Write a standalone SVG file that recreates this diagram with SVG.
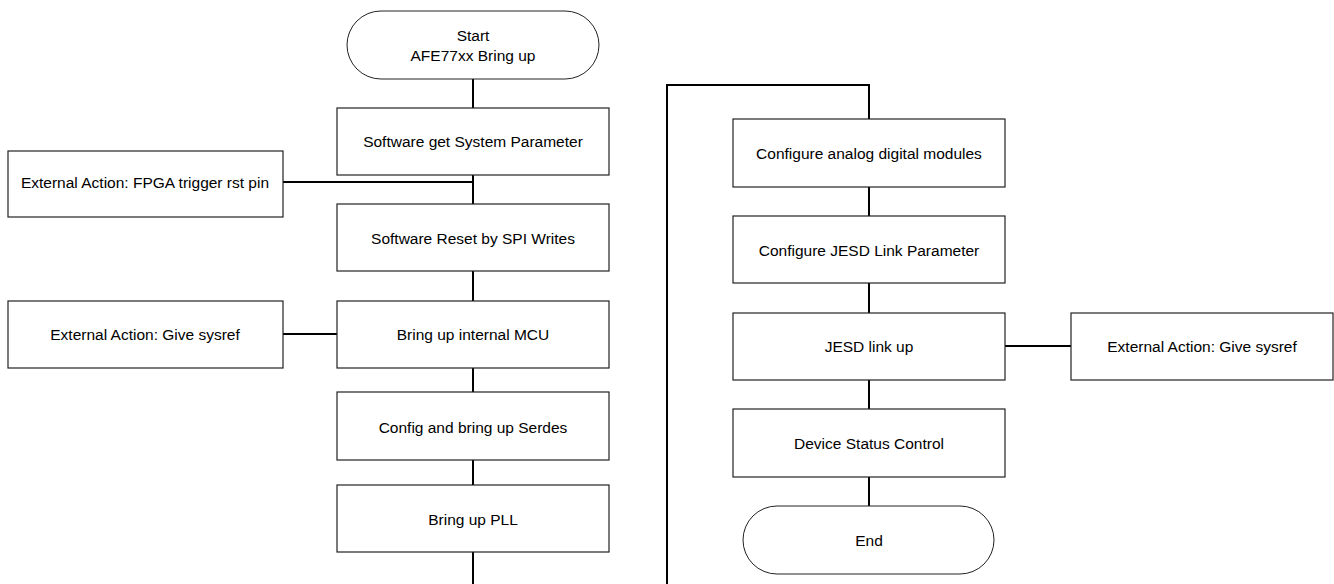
<svg xmlns="http://www.w3.org/2000/svg" width="1334" height="584" viewBox="0 0 1334 584">
<style>
.box{fill:#fff;stroke:#222;stroke-width:1.2}
.term{fill:#fff;stroke:#222;stroke-width:1}
.t{font-family:"Liberation Sans",Arial,sans-serif;font-size:15.5px;fill:#000;text-anchor:middle;dominant-baseline:central}
.c{fill:none;stroke:#000;stroke-width:2}
</style>
<rect width="1334" height="584" fill="#fff"/>
<g id="connectors">
<line class="c" x1="473" y1="79" x2="473" y2="108"/>
<line class="c" x1="473" y1="175" x2="473" y2="204"/>
<line class="c" x1="283" y1="182" x2="473" y2="182"/>
<line class="c" x1="473" y1="271" x2="473" y2="301"/>
<line class="c" x1="283" y1="334" x2="337" y2="334"/>
<line class="c" x1="473" y1="368" x2="473" y2="392"/>
<line class="c" x1="473" y1="460" x2="473" y2="485"/>
<line class="c" x1="473" y1="552" x2="473" y2="584"/>
<polyline class="c" points="667,584 667,85 869,85 869,119"/>
<line class="c" x1="869" y1="187" x2="869" y2="216"/>
<line class="c" x1="869" y1="283" x2="869" y2="313"/>
<line class="c" x1="1005" y1="346" x2="1071" y2="346"/>
<line class="c" x1="869" y1="380" x2="869" y2="409"/>
<line class="c" x1="869" y1="477" x2="869" y2="506"/>
</g>
<g id="start"><rect class="term" x="347" y="11" width="252" height="68" rx="34"/><text class="t" x="473" y="35">Start</text><text class="t" x="473" y="55">AFE77xx Bring up</text></g>
<g id="n1"><rect class="box" x="337" y="108" width="272" height="67"/><text class="t" x="473" y="141">Software get System Parameter</text></g>
<g id="ext1"><rect class="box" x="8" y="151" width="275" height="66"/><text class="t" x="145" y="182">External Action: FPGA trigger rst pin</text></g>
<g id="n2"><rect class="box" x="337" y="204" width="272" height="67"/><text class="t" x="473" y="238">Software Reset by SPI Writes</text></g>
<g id="ext2"><rect class="box" x="8" y="301" width="275" height="67"/><text class="t" x="145" y="334">External Action: Give sysref</text></g>
<g id="n3"><rect class="box" x="337" y="301" width="272" height="67"/><text class="t" x="473" y="334">Bring up internal MCU</text></g>
<g id="n4"><rect class="box" x="337" y="392" width="272" height="68"/><text class="t" x="473" y="427">Config and bring up Serdes</text></g>
<g id="n5"><rect class="box" x="337" y="485" width="272" height="67"/><text class="t" x="473" y="519">Bring up PLL</text></g>
<g id="n6"><rect class="box" x="733" y="119" width="272" height="68"/><text class="t" x="869" y="153">Configure analog digital modules</text></g>
<g id="n7"><rect class="box" x="733" y="216" width="272" height="67"/><text class="t" x="869" y="250">Configure JESD Link Parameter</text></g>
<g id="n8"><rect class="box" x="733" y="313" width="272" height="67"/><text class="t" x="869" y="346">JESD link up</text></g>
<g id="ext3"><rect class="box" x="1071" y="313" width="262" height="67"/><text class="t" x="1202" y="346">External Action: Give sysref</text></g>
<g id="n9"><rect class="box" x="733" y="409" width="272" height="68"/><text class="t" x="869" y="443">Device Status Control</text></g>
<g id="end"><rect class="term" x="743" y="506" width="251" height="68" rx="34"/><text class="t" x="869" y="540">End</text></g>
</svg>
